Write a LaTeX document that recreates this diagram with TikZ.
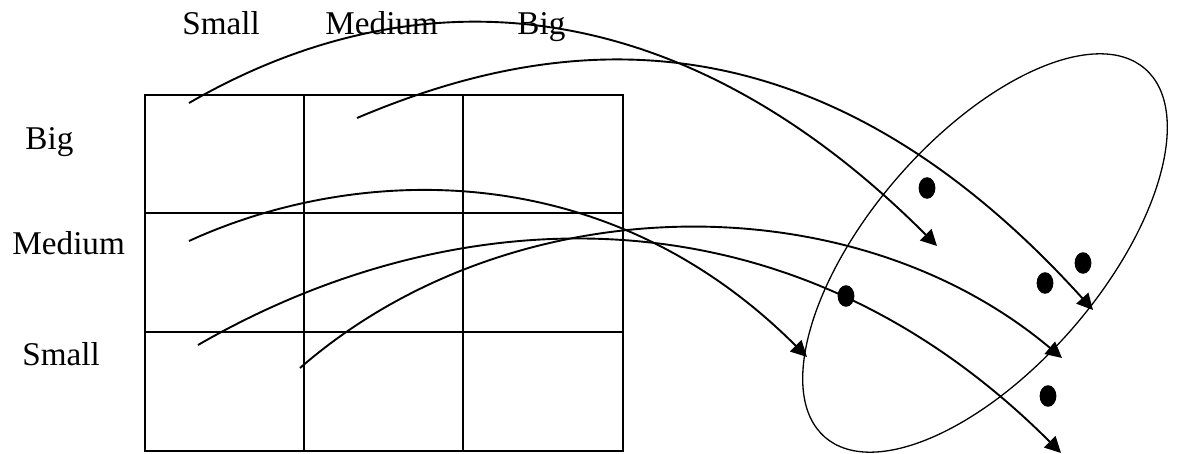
\documentclass[tikz,border=0pt]{standalone}
\usepackage{fontspec}
\setmainfont{Liberation Serif}
\usetikzlibrary{arrows.meta}
\begin{document}
\begin{tikzpicture}[x=0.5pt,y=-0.5pt,
  lbl/.style={anchor=base west,inner sep=0pt,font=\fontsize{16.6pt}{19pt}\selectfont},
  gridline/.style={line width=0.65pt},
  arr/.style={line width=0.95pt,-{Triangle[length=8pt,width=8pt]}},
  dotmark/.style={fill=black}]
\useasboundingbox (0,0) rectangle (1178,454);
% labels
\node[lbl] (tS) at (182,35) {Small};
\node[lbl] (tM) at (325,35) {Medium};
\node[lbl] (tB) at (517,35) {Big};
\node[lbl] (lB) at (25,150) {Big};
\node[lbl] (lM) at (12,255) {Medium};
\node[lbl] (lS) at (22,365) {Small};
% grid
\draw[gridline] (145,95) rectangle (623,451);
\draw[gridline] (304,95) -- (304,451) (463,95) -- (463,451)
  (145,213) -- (623,213) (145,332) -- (623,332);
% ellipse
\draw[line width=0.65pt, rotate around={49:(985,253)}] (985,253) ellipse [x radius=122pt, y radius=57.75pt];
% start and end points
\coordinate (sA) at (189,103);
\coordinate (eA) at (937,246);
\coordinate (sB) at (357,118);
\coordinate (eB) at (1093,310);
\coordinate (sC) at (189,241);
\coordinate (eC) at (807,357);
\coordinate (sD) at (198,345);
\coordinate (eD) at (1061,453);
\coordinate (sE) at (300,368);
\coordinate (eE) at (1062,358);
% curves
\draw[arr] (sA) .. controls (428,-35) and (690,-1.5) .. (eA);
\draw[arr] (sB) .. controls (548,37) and (809,-4) .. (eB);
\draw[arr] (sC) .. controls (348,168) and (600,150) .. (eC);
\draw[arr] (sD) .. controls (449,200) and (785,177) .. (eD);
\draw[arr] (sE) .. controls (509,186) and (850,180) .. (eE);
% dots
\foreach \p/\n in {{(927,188)}/d1,{(1083,263)}/d2,{(1045,283)}/d3,{(846,296)}/d4,{(1048,396)}/d5}
  \fill[dotmark] \p ellipse [x radius=4.2pt, y radius=5.4pt];
\end{tikzpicture}
\end{document}
